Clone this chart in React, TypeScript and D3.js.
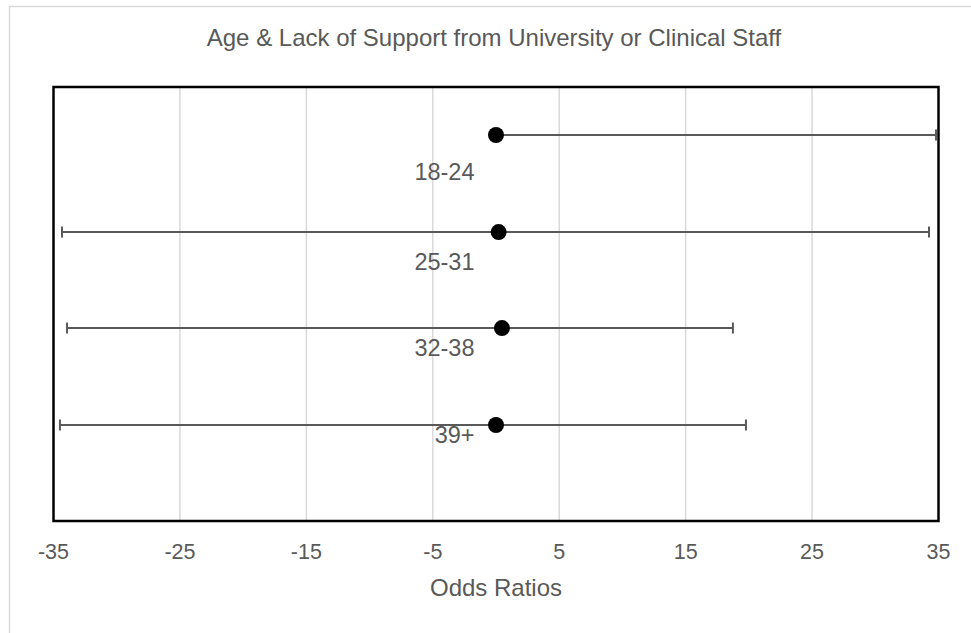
import React from "react";
import * as d3 from "d3";

const categories = ["18-24", "25-31", "32-38", "39+"];
const oddsRatios = [0.0, 0.21, 0.47, 0.0];
const lowerCI = [0.0, -34.33, -33.93, -34.49];
const upperCI = [34.8, 34.25, 18.74, 19.77];
const pointY = [4.447, 3.329, 2.223, 1.106];
const labelY = [4.0, 2.96, 1.97, 0.97];
const labelX = -1.7;
const xTicks = [-35, -25, -15, -5, 5, 15, 25, 35];

const W = 971;
const H = 633;
const plot = { left: 53.5, right: 938.5, top: 87, bottom: 521 };

export default function App() {
  const x = d3.scaleLinear().domain([-35, 35]).range([plot.left, plot.right]);
  const y = d3.scaleLinear().domain([0, 5]).range([plot.bottom, plot.top]);
  const font = "'Liberation Sans', Arial, sans-serif";
  const grey = "#595959";
  return (
    <svg
      width={W}
      height={H}
      style={{ position: "absolute", left: 0, top: 0, background: "#fff" }}
    >
      <rect x={9.5} y={6.5} width={980} height={700} fill="#fff" stroke="#d9d9d9" strokeWidth={1.5} />
      <text x={494} y={40} textAnchor="middle" dominantBaseline="middle" fontFamily={font} fontSize={24} fill={grey}>
        Age &amp; Lack of Support from University or Clinical Staff
      </text>
      {xTicks.slice(1, -1).map((t) => (
        <line key={t} x1={x(t)} x2={x(t)} y1={plot.top} y2={plot.bottom} stroke="#d9d9d9" strokeWidth={1.5} />
      ))}
      <rect
        x={plot.left}
        y={plot.top}
        width={plot.right - plot.left}
        height={plot.bottom - plot.top}
        fill="none"
        stroke="#000"
        strokeWidth={2.5}
      />
      {categories.map((c, i) => (
        <g key={c}>
          <line x1={x(lowerCI[i])} x2={x(upperCI[i])} y1={y(pointY[i])} y2={y(pointY[i])} stroke={grey} strokeWidth={2} />
          {lowerCI[i] < oddsRatios[i] && (
            <line x1={x(lowerCI[i])} x2={x(lowerCI[i])} y1={y(pointY[i]) - 5.5} y2={y(pointY[i]) + 5.5} stroke={grey} strokeWidth={2} />
          )}
          <line x1={x(upperCI[i])} x2={x(upperCI[i])} y1={y(pointY[i]) - 5.5} y2={y(pointY[i]) + 5.5} stroke={grey} strokeWidth={2} />
          <circle cx={x(oddsRatios[i])} cy={y(pointY[i])} r={8} fill="#000" />
          <text x={x(labelX)} y={y(labelY[i])} textAnchor="end" dominantBaseline="middle" fontFamily={font} fontSize={23.5} fill={grey}>
            {c}
          </text>
        </g>
      ))}
      {xTicks.map((t) => (
        <text key={t} x={x(t)} y={553} textAnchor="middle" dominantBaseline="middle" fontFamily={font} fontSize={21.5} fill={grey}>
          {t}
        </text>
      ))}
      <text x={496} y={590} textAnchor="middle" dominantBaseline="middle" fontFamily={font} fontSize={24} fill={grey}>
        Odds Ratios
      </text>
    </svg>
  );
}
